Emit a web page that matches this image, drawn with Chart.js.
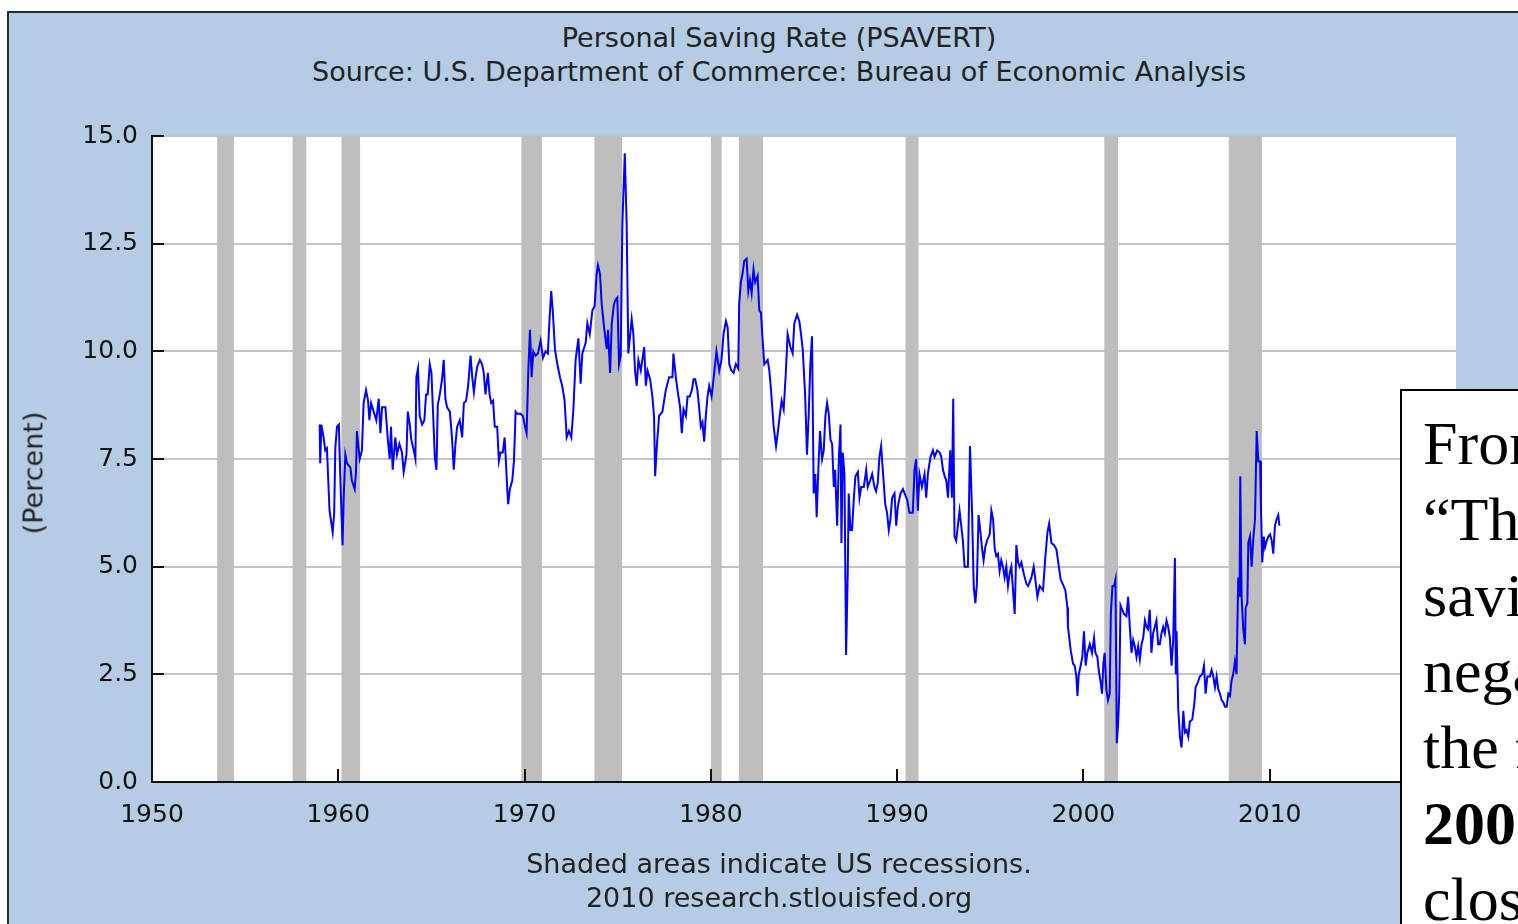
<!DOCTYPE html>
<html lang="en">
<head>
<meta charset="UTF-8">
<title>Personal Saving Rate (PSAVERT)</title>
<script src="https://cdn.jsdelivr.net/npm/chart.js"></script>
<style>
  html, body { margin: 0; padding: 0; width: 1518px; height: 924px; overflow: hidden; background: #fff; }
  .frame { position: absolute; left: 7px; top: 11px; width: 1600px; height: 1000px; background: #B4CDE4; border: 2px solid #2b2b2b; box-sizing: border-box; }
  .wrap { position: absolute; left: 0; top: 0; width: 1518px; height: 924px; }
  .caption { position: absolute; left: 279px; width: 1000px; text-align: center; font-family: 'DejaVu Sans', sans-serif; font-size: 27px; line-height: 34px; color: #222; white-space: nowrap; }
  .ylabel { position: absolute; left: 33px; top: 473px; transform: translate(-50%, -50%) rotate(-90deg); font-family: 'DejaVu Sans', sans-serif; font-size: 27px; color: #222; white-space: nowrap; }
  .note { position: absolute; left: 1400px; top: 389px; width: 400px; height: 700px; background: #fff; border: 2px solid #000; box-sizing: border-box; padding: 14px 0 0 21px; font-family: 'Liberation Serif', serif; font-size: 62px; line-height: 76px; color: #000; white-space: nowrap; }
</style>
</head>
<body>
<div class="frame"></div>
<div class="caption" style="top:21px">Personal Saving Rate (PSAVERT)<br>Source: U.S. Department of Commerce: Bureau of Economic Analysis</div>
<div class="wrap"><canvas id="chart"></canvas></div>
<div class="ylabel">(Percent)</div>
<div class="caption" style="top:847px">Shaded areas indicate US recessions.<br>2010 research.stlouisfed.org</div>
<div class="note">From<br>“The<br>saving<br>negative<br>the first<br><b>2005</b><br>close</div>

<script>
// monthly saving rate (decimal year / percent)
const years = [
  1959.00, 1959.03, 1959.09, 1959.21, 1959.30, 1959.39, 1959.53, 1959.70, 1959.78, 1959.84, 1959.93,
  1960.03, 1960.10, 1960.16, 1960.23, 1960.29, 1960.38, 1960.47, 1960.65, 1960.73, 1960.88, 1960.95,
  1961.00, 1961.15, 1961.27, 1961.36, 1961.49, 1961.60, 1961.67, 1961.76, 1961.90,
  1962.04, 1962.17, 1962.26, 1962.35, 1962.53, 1962.65, 1962.76, 1962.83, 1962.92,
  1963.06, 1963.15, 1963.28, 1963.42, 1963.51, 1963.66, 1963.73, 1963.84, 1963.92,
  1964.05, 1964.14, 1964.19, 1964.28, 1964.37, 1964.50, 1964.62, 1964.71, 1964.80, 1964.91,
  1965.00, 1965.09, 1965.18, 1965.27, 1965.34, 1965.45, 1965.57, 1965.66, 1965.75, 1965.84, 1965.99,
  1966.11, 1966.20, 1966.29, 1966.38, 1966.52, 1966.65, 1966.74, 1966.86, 1966.97,
  1967.10, 1967.19, 1967.28, 1967.37, 1967.46, 1967.60, 1967.72, 1967.81, 1967.90,
  1968.03, 1968.12, 1968.21, 1968.31, 1968.40, 1968.53, 1968.62, 1968.71, 1968.83, 1968.93, 1968.98,
  1969.07, 1969.12, 1969.21, 1969.34, 1969.43, 1969.52, 1969.61, 1969.78, 1969.91,
  1970.00, 1970.11, 1970.20, 1970.29, 1970.38, 1970.47, 1970.59, 1970.72, 1970.86, 1970.99,
  1971.13, 1971.25, 1971.34, 1971.43, 1971.52, 1971.63, 1971.76, 1971.90,
  1972.02, 1972.15, 1972.26, 1972.38, 1972.51, 1972.62, 1972.74, 1972.89,
  1973.01, 1973.10, 1973.28, 1973.37, 1973.50, 1973.64, 1973.76, 1973.87, 1973.94,
  1974.05, 1974.14, 1974.27, 1974.41, 1974.48, 1974.59, 1974.68, 1974.80, 1974.89, 1974.98,
  1975.07, 1975.16, 1975.25, 1975.38, 1975.48, 1975.57, 1975.66, 1975.75, 1975.84, 1975.93,
  1976.02, 1976.11, 1976.24, 1976.42, 1976.51, 1976.60, 1976.74, 1976.86, 1976.95,
  1977.01, 1977.10, 1977.22, 1977.40, 1977.58, 1977.76, 1977.94, 1977.99,
  1978.12, 1978.21, 1978.35, 1978.44, 1978.53, 1978.66, 1978.75, 1978.87, 1978.98,
  1979.07, 1979.16, 1979.28, 1979.37, 1979.46, 1979.55, 1979.64, 1979.73, 1979.82, 1979.91,
  1980.04, 1980.18, 1980.30, 1980.45, 1980.57, 1980.68, 1980.81, 1980.90, 1980.99,
  1981.11, 1981.22, 1981.34, 1981.47, 1981.52, 1981.61, 1981.70, 1981.79, 1981.92,
  1982.01, 1982.10, 1982.19, 1982.29, 1982.38, 1982.51, 1982.60, 1982.69, 1982.78, 1982.87,
  1983.05, 1983.14, 1983.23, 1983.37, 1983.50, 1983.59, 1983.71, 1983.80, 1983.91,
  1984.03, 1984.12, 1984.27, 1984.39, 1984.48, 1984.63, 1984.75, 1984.84, 1984.93,
  1985.06, 1985.16, 1985.25, 1985.34, 1985.43, 1985.52, 1985.61, 1985.68, 1985.77, 1985.86, 1985.97,
  1986.06, 1986.15, 1986.24, 1986.33, 1986.42, 1986.51, 1986.60, 1986.67, 1986.78, 1986.87, 1986.96,
  1987.01, 1987.08, 1987.17, 1987.26, 1987.35, 1987.40, 1987.49, 1987.58, 1987.67, 1987.76, 1987.89, 1987.98,
  1988.07, 1988.21, 1988.34, 1988.42, 1988.55, 1988.66, 1988.78, 1988.87, 1988.96,
  1989.05, 1989.14, 1989.23, 1989.36, 1989.46, 1989.55, 1989.64, 1989.73, 1989.86, 1989.95,
  1990.04, 1990.18, 1990.31, 1990.40, 1990.54, 1990.66, 1990.84, 1990.93,
  1991.02, 1991.11, 1991.20, 1991.33, 1991.47, 1991.56, 1991.65, 1991.79, 1991.92,
  1992.01, 1992.15, 1992.28, 1992.37, 1992.46, 1992.55, 1992.64, 1992.73, 1992.85, 1992.94,
  1993.01, 1993.08, 1993.17, 1993.26, 1993.35, 1993.44, 1993.53, 1993.62, 1993.80, 1993.91,
  1994.02, 1994.11, 1994.20, 1994.28, 1994.37, 1994.46, 1994.55, 1994.64, 1994.73, 1994.82, 1994.97,
  1995.06, 1995.15, 1995.24, 1995.32, 1995.41, 1995.50, 1995.59, 1995.68, 1995.77, 1995.86, 1995.95,
  1996.04, 1996.13, 1996.22, 1996.31, 1996.40, 1996.49, 1996.58, 1996.67, 1996.79, 1996.94,
  1997.03, 1997.21, 1997.33, 1997.42, 1997.53, 1997.65, 1997.74, 1997.83, 1997.96,
  1998.07, 1998.16, 1998.28, 1998.42, 1998.55, 1998.68, 1998.78, 1998.94,
  1999.03, 1999.14, 1999.17, 1999.32, 1999.44, 1999.53, 1999.62, 1999.68, 1999.75, 1999.85, 1999.94,
  2000.03, 2000.12, 2000.21, 2000.34, 2000.46, 2000.57, 2000.64, 2000.75, 2000.82, 2000.93,
  2001.00, 2001.07, 2001.14, 2001.23, 2001.32, 2001.41, 2001.47, 2001.56, 2001.65, 2001.72, 2001.79, 2001.86, 2001.92, 2001.99,
  2002.08, 2002.18, 2002.31, 2002.40, 2002.49, 2002.58, 2002.67, 2002.76, 2002.85, 2002.94,
  2003.03, 2003.12, 2003.21, 2003.30, 2003.39, 2003.47, 2003.56, 2003.65, 2003.74, 2003.83, 2003.92,
  2004.01, 2004.10, 2004.19, 2004.28, 2004.37, 2004.46, 2004.55, 2004.64, 2004.73, 2004.82, 2004.91, 2004.96,
  2005.00, 2005.09, 2005.18, 2005.27, 2005.36, 2005.45, 2005.54, 2005.63, 2005.71, 2005.84, 2005.95,
  2006.02, 2006.13, 2006.25, 2006.38, 2006.47, 2006.56, 2006.65, 2006.79, 2006.88, 2006.97,
  2007.06, 2007.15, 2007.24, 2007.33, 2007.42, 2007.51, 2007.60, 2007.69, 2007.78, 2007.87, 2007.95,
  2008.04, 2008.13, 2008.22, 2008.31, 2008.38, 2008.42, 2008.49, 2008.58, 2008.67, 2008.71, 2008.80, 2008.85, 2008.94,
  2009.03, 2009.12, 2009.21, 2009.30, 2009.39, 2009.48, 2009.53, 2009.60, 2009.68, 2009.75, 2009.84, 2009.93,
  2010.02, 2010.11, 2010.19, 2010.28, 2010.37, 2010.46, 2010.52
];
const savingRate = [
  8.3, 7.4, 8.3, 8.0, 7.7, 7.75, 6.3, 5.8, 6.25, 7.75, 8.25,
  8.3, 7.2, 6.4, 5.5, 6.6, 7.6, 7.4, 7.3, 7.0, 6.8, 7.2,
  8.15, 7.5, 7.7, 8.8, 9.1, 8.85, 8.4, 8.8, 8.6,
  8.4, 8.9, 8.1, 8.7, 8.7, 8.0, 7.5, 8.25, 7.25,
  8.0, 7.6, 7.85, 7.65, 7.2, 7.6, 8.6, 8.3, 7.95,
  7.7, 7.5, 9.4, 9.6, 8.5, 8.3, 8.4, 9.0, 9.0, 9.7,
  9.5, 8.55, 7.55, 7.25, 8.75, 9.0, 9.35, 9.8, 8.9, 8.7, 8.6,
  7.95, 7.25, 7.85, 8.25, 8.4, 8.0, 8.8, 8.85, 9.2,
  9.9, 9.4, 9.05, 9.4, 9.65, 9.8, 9.7, 9.5, 9.0,
  9.5, 9.0, 8.8, 8.85, 8.25, 8.25, 7.45, 7.65, 7.65, 8.0, 7.6,
  6.8, 6.45, 6.8, 7.0, 7.45, 8.6, 8.55, 8.55, 8.5,
  8.3, 8.1, 9.55, 10.5, 9.4, 10.0, 9.9, 9.95, 10.25, 9.85,
  10.0, 9.95, 10.75, 11.4, 10.9, 10.05, 9.7, 9.4,
  9.2, 8.85, 8.0, 8.15, 8.0, 8.65, 9.8, 10.3,
  9.25, 9.95, 10.2, 10.65, 10.4, 10.95, 11.05, 11.8, 12.0,
  11.8, 11.1, 10.55, 10.05, 10.5, 9.5, 10.65, 11.1, 11.2, 11.25,
  9.7, 9.9, 12.95, 14.6, 12.95, 9.95, 10.35, 10.75, 10.4, 9.55,
  9.2, 9.8, 9.55, 10.1, 9.2, 9.55, 9.35, 8.95, 8.5,
  7.1, 7.8, 8.5, 8.6, 9.1, 9.4, 9.4, 9.95,
  9.4, 9.1, 8.7, 8.1, 8.65, 8.5, 8.95, 8.95, 9.1,
  9.35, 9.35, 9.1, 8.7, 8.25, 8.35, 7.9, 8.5, 8.95, 9.2,
  8.95, 9.5, 10.0, 9.55, 9.8, 10.4, 10.7, 10.55, 9.7,
  9.55, 9.5, 9.7, 9.6, 11.1, 11.6, 11.8, 12.1, 12.15,
  11.4, 11.65, 11.35, 11.9, 11.6, 11.75, 10.95, 10.9, 10.25, 9.7,
  9.8, 9.55, 9.1, 8.25, 7.8, 8.1, 8.55, 8.85, 8.65,
  9.55, 10.4, 10.1, 9.95, 10.65, 10.85, 10.7, 10.4, 10.05,
  9.0, 7.6, 8.5, 9.7, 10.35, 6.7, 7.15, 6.15, 7.25, 8.15, 7.5,
  7.7, 8.5, 8.8, 8.55, 7.95, 7.85, 6.85, 7.25, 5.95, 7.5, 8.3,
  5.55, 7.65, 7.15, 2.95, 4.9, 6.7, 5.85, 5.85, 6.55, 7.1, 7.2, 6.6,
  6.85, 6.85, 7.25, 6.85, 7.0, 7.15, 6.85, 6.75, 6.95,
  7.55, 7.8, 7.25, 6.45, 6.25, 5.85, 6.1, 6.6, 6.7, 5.95,
  6.4, 6.7, 6.8, 6.7, 6.55, 6.25, 6.25, 7.25,
  7.5, 6.3, 7.15, 6.85, 7.15, 6.6, 7.15, 7.55, 7.7,
  7.55, 7.7, 7.65, 7.55, 7.25, 7.1, 7.0, 6.6, 7.7, 6.6,
  8.9, 5.7, 5.6, 5.95, 6.3, 5.95, 5.6, 5.0, 5.0, 7.8,
  6.3, 4.55, 4.15, 4.6, 6.2, 5.85, 5.45, 5.15, 5.45, 5.6, 5.75,
  6.3, 6.1, 5.4, 5.25, 5.3, 4.9, 5.15, 5.0, 4.75, 5.0, 4.55,
  4.85, 5.0, 4.45, 3.9, 5.5, 5.1, 5.0, 5.1, 4.85, 4.6,
  4.55, 4.75, 5.0, 4.7, 4.3, 4.55, 4.5, 4.45, 5.25,
  5.8, 6.0, 5.55, 5.5, 5.4, 5.0, 4.7, 4.55,
  4.45, 4.05, 3.6, 3.05, 2.75, 2.7, 2.45, 2.0, 2.5, 2.7, 2.9,
  3.5, 2.7, 3.0, 3.2, 3.0, 3.35, 3.0, 2.9, 2.6, 2.3,
  2.05, 2.75, 3.0, 2.15, 1.9, 2.05, 3.9, 4.55, 4.55, 4.7, 0.9, 1.35, 2.0, 4.1,
  4.0, 3.9, 3.85, 4.3, 3.6, 3.0, 3.3, 3.15, 2.9, 3.15,
  2.85, 3.2, 3.35, 3.75, 3.6, 3.55, 4.0, 3.0, 3.45, 3.6, 3.75,
  3.2, 3.2, 3.45, 3.6, 3.45, 3.75, 3.6, 3.35, 2.7, 3.3, 5.2, 2.5,
  3.5, 1.7, 1.05, 0.8, 1.65, 1.15, 1.2, 1.05, 1.4, 1.45, 1.8,
  2.2, 2.3, 2.45, 2.5, 2.7, 2.05, 2.45, 2.45, 2.6, 2.45,
  2.2, 2.45, 2.15, 2.05, 1.9, 1.85, 1.75, 1.75, 2.05, 2.0, 2.35,
  2.5, 2.8, 2.5, 4.75, 4.3, 7.1, 4.3, 3.55, 3.2, 4.05, 4.15, 5.55, 5.7,
  5.0, 5.65, 6.1, 8.15, 7.45, 7.45, 6.4, 5.1, 5.7, 5.45, 5.6, 5.7,
  5.75, 5.6, 5.3, 5.95, 6.1, 6.2, 5.95
];

// US recessions (shaded), decimal years
const recessionStart = [1953.50, 1957.55, 1960.17, 1969.83, 1973.75, 1980.00, 1981.50, 1990.45, 2001.12, 2007.80];
const recessionEnd   = [1954.40, 1958.28, 1961.17, 1970.93, 1975.24, 1980.58, 1982.80, 1991.15, 2001.86, 2009.58];

const yearTicks = [1950, 1960, 1970, 1980, 1990, 2000, 2010];
const percentTicks = [0, 2.5, 5, 7.5, 10, 12.5, 15];

const tickFont = { family: 'DejaVu Sans', size: 25 };

// white plot background + grey recession bars
const recessionShading = {
  id: 'recessionShading',
  beforeDraw(chart) {
    const { ctx, chartArea: a } = chart;
    ctx.save();
    ctx.fillStyle = '#fff';
    ctx.fillRect(a.left, a.top, a.right - a.left, a.bottom - a.top);
    ctx.restore();
  },
  beforeDatasetsDraw(chart) {
    const { ctx, chartArea: a, scales: { x } } = chart;
    ctx.save();
    ctx.fillStyle = '#BEBEBE';
    recessionStart.forEach((s, i) => {
      const x0 = x.getPixelForValue(s);
      const x1 = x.getPixelForValue(recessionEnd[i]);
      ctx.fillRect(x0, a.top, x1 - x0, a.bottom - a.top - 1);
    });
    ctx.restore();
  }
};

// tick marks pointing into the plot
const innerTicks = {
  id: 'innerTicks',
  afterDatasetsDraw(chart) {
    const { ctx, chartArea: a, scales: { x, y } } = chart;
    ctx.save();
    ctx.strokeStyle = '#111';
    ctx.lineWidth = 2;
    ctx.beginPath();
    percentTicks.forEach(v => {
      const py = Math.round(y.getPixelForValue(v));
      ctx.moveTo(a.left, py);
      ctx.lineTo(a.left + 12, py);
    });
    yearTicks.slice(1).forEach(v => {
      const px = Math.round(x.getPixelForValue(v));
      ctx.moveTo(px, a.bottom);
      ctx.lineTo(px, a.bottom - 13);
    });
    ctx.stroke();
    ctx.restore();
  }
};

new Chart(document.getElementById('chart'), {
  type: 'line',
  data: {
    datasets: [{
      label: 'PSAVERT',
      data: years.map((yr, i) => ({ x: yr, y: savingRate[i] })),
      borderColor: '#0000FF',
      borderWidth: 2,
      pointRadius: 0,
      tension: 0,
      fill: false
    }]
  },
  options: {
    responsive: true,
    maintainAspectRatio: false,
    animation: false,
    devicePixelRatio: 1,
    layout: { padding: { top: 136, left: 0, right: 62, bottom: 82 } },
    plugins: {
      legend: { display: false },
      tooltip: { enabled: false }
    },
    scales: {
      x: {
        type: 'linear',
        min: 1950,
        max: 2020,
        afterBuildTicks: s => { s.ticks = yearTicks.map(v => ({ value: v })); },
        afterFit: s => { s.height = 60; },
        grid: { display: false, drawTicks: false },
        border: { display: true, color: '#111', width: 2 },
        ticks: { padding: 18, color: '#111', font: tickFont, maxRotation: 0, autoSkip: false, callback: v => String(v) }
      },
      y: {
        min: 0,
        max: 15,
        afterBuildTicks: s => { s.ticks = percentTicks.map(v => ({ value: v })); },
        afterFit: s => { s.width = 152; },
        grid: { color: '#C4C4C4', lineWidth: 2, drawTicks: false },
        border: { display: true, color: '#111', width: 2 },
        ticks: { padding: 14, color: '#111', font: tickFont, callback: v => v.toFixed(1) }
      }
    }
  },
  plugins: [recessionShading, innerTicks]
});
</script>
</body>
</html>
